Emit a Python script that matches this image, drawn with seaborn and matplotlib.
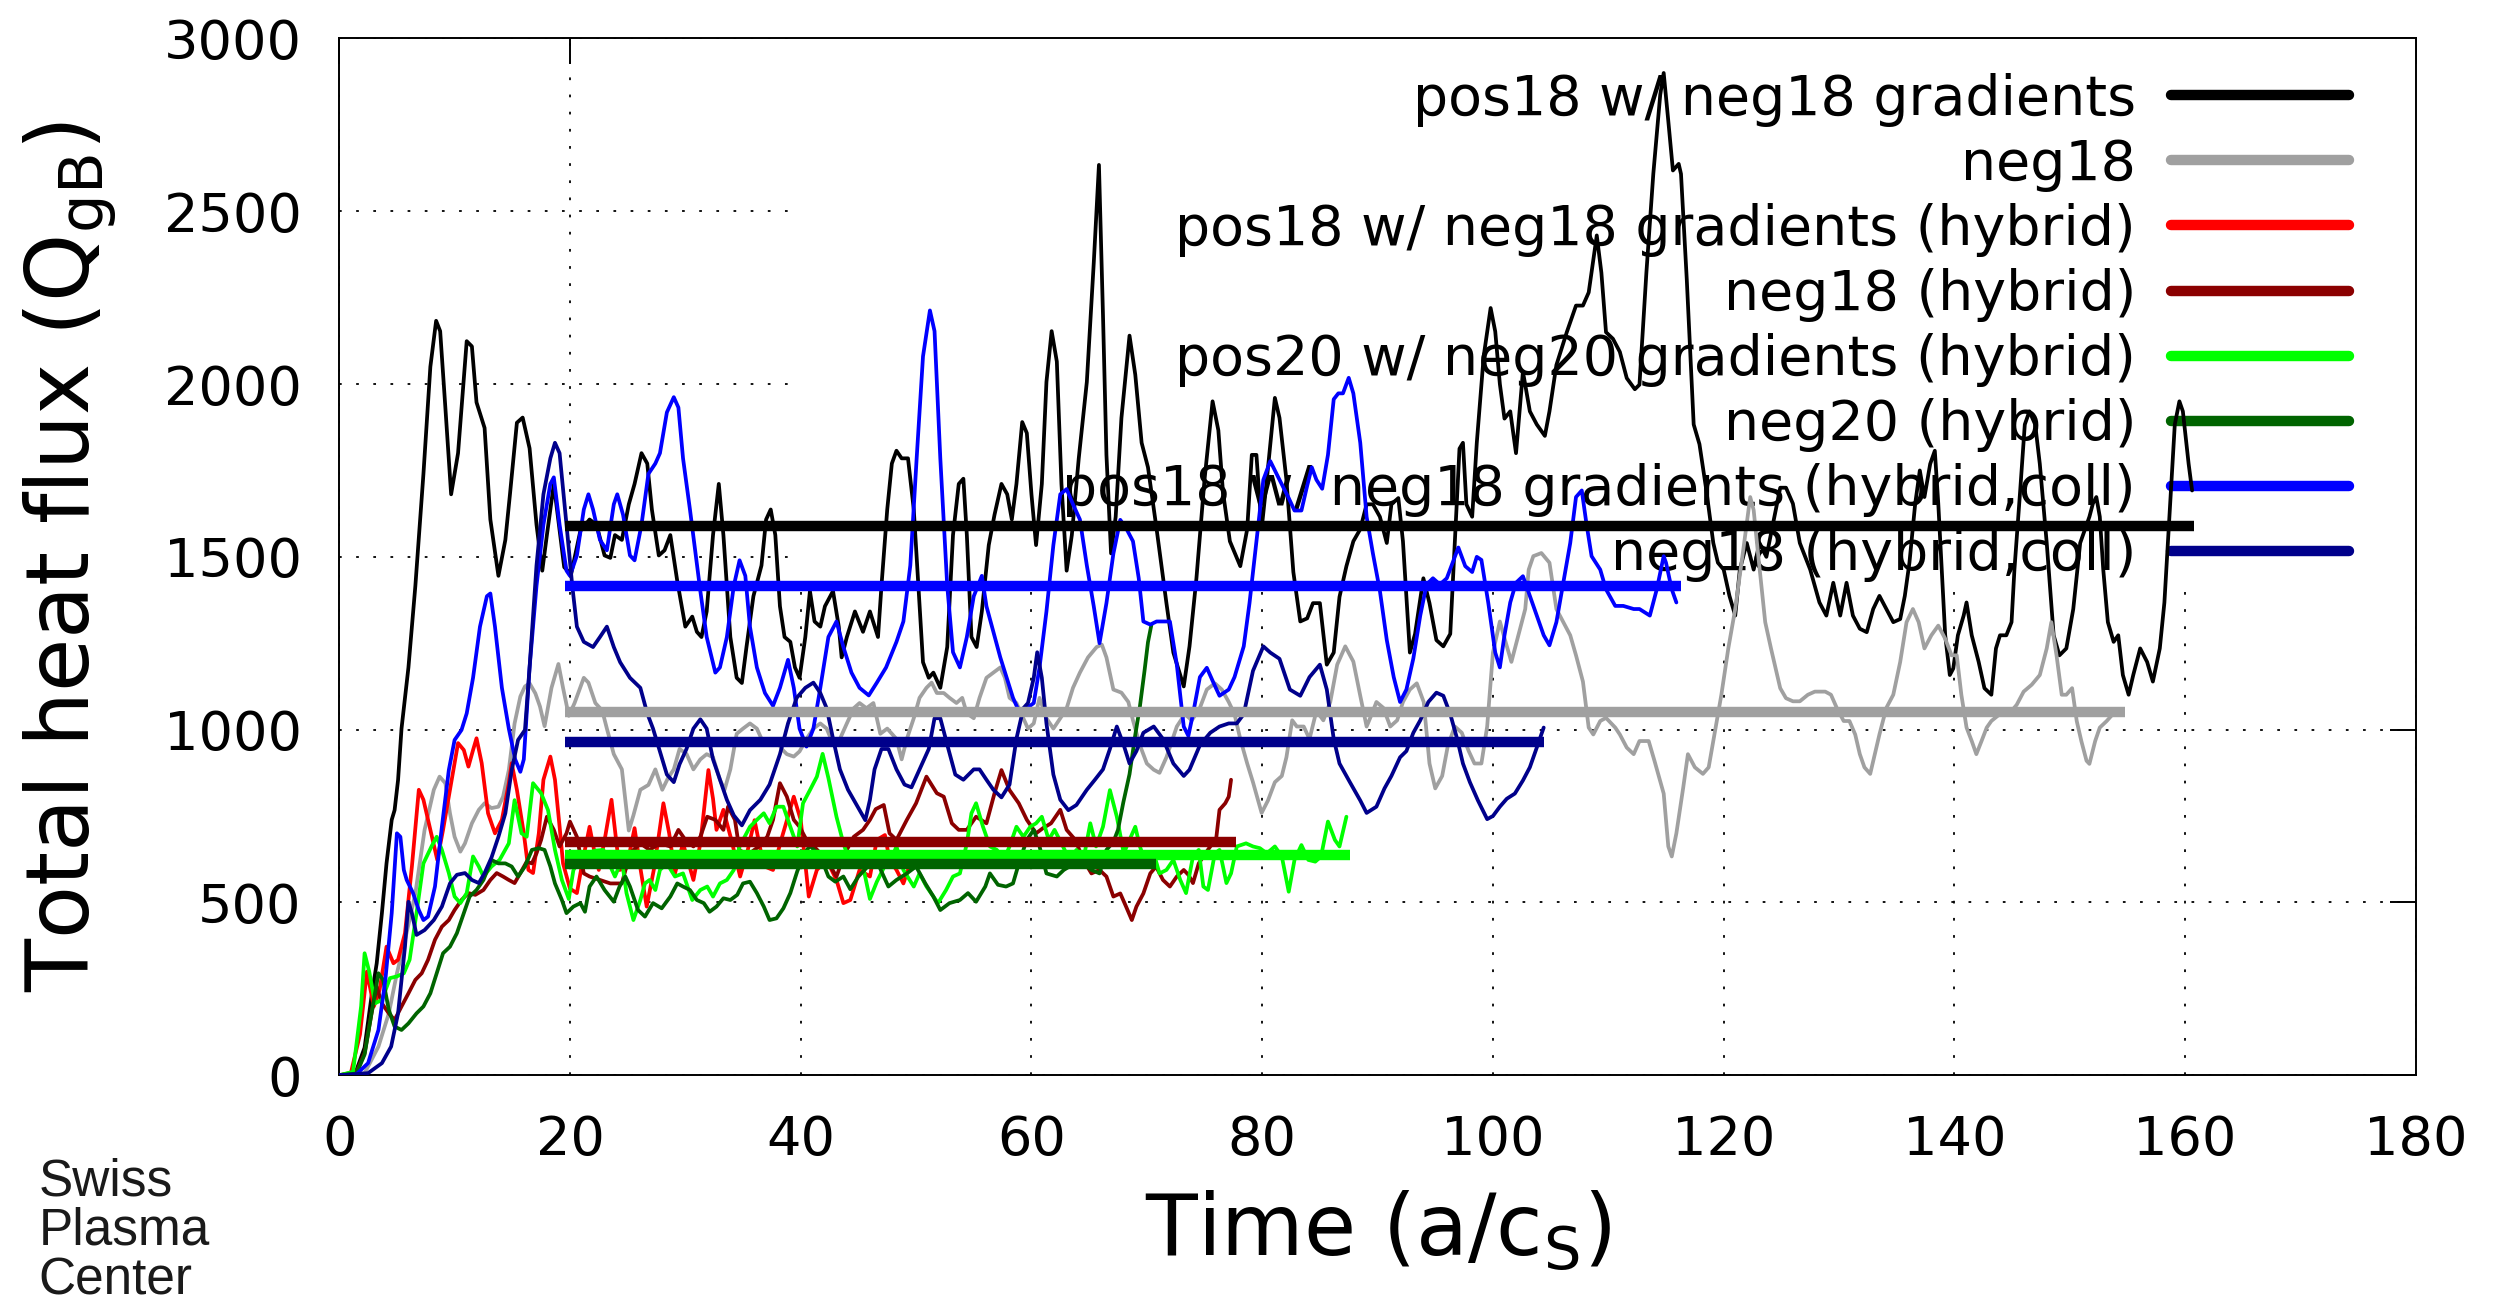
import matplotlib
matplotlib.use("Agg")
import matplotlib.pyplot as plt
from matplotlib.lines import Line2D
from matplotlib.patches import Rectangle
import pandas as pd
import seaborn as sns

# (time, heat flux) pairs
pos18 = [(0, 0), (1.4, 6), (2.2, 80), (2.8, 228), (3.25, 324), (3.7, 469), (4.1, 613), (4.55, 739), (4.8, 767),
         (5.1, 854), (5.4, 1003), (6.0, 1180), (6.6, 1416), (7.3, 1740), (7.9, 2050), (8.4, 2183), (8.75, 2153),
         (9.2, 1932), (9.7, 1681), (10.3, 1800), (11.05, 2124), (11.5, 2109), (11.9, 1947), (12.6, 1873),
         (13.1, 1608), (13.8, 1445), (14.4, 1549), (14.8, 1681), (15.4, 1888), (15.9, 1903), (16.5, 1814),
         (17.1, 1593), (17.6, 1460), (18.0, 1563), (18.6, 1711), (19.5, 1470), (20.1, 1450), (20.9, 1575),
         (21.7, 1608), (22.3, 1593), (23.0, 1504), (23.5, 1497), (23.9, 1563), (24.5, 1549), (25.1, 1652),
         (25.6, 1711), (26.2, 1800), (26.7, 1770), (27.1, 1637), (27.7, 1504), (28.2, 1519), (28.7, 1563),
         (29.3, 1430), (30.0, 1298), (30.6, 1327), (31.0, 1283), (31.4, 1268), (31.85, 1342), (32.4, 1563),
         (32.9, 1711), (33.3, 1563), (33.9, 1268), (34.45, 1150), (34.9, 1135), (35.3, 1239), (35.9, 1386),
         (36.6, 1475), (37.0, 1608), (37.4, 1637), (37.8, 1563), (38.2, 1357), (38.6, 1268), (39.1, 1254),
         (39.5, 1180), (39.9, 1150), (40.4, 1268), (40.8, 1401), (41.2, 1313), (41.7, 1298), (42.1, 1357),
         (42.8, 1401), (43.3, 1298), (43.55, 1209), (44.0, 1268), (44.7, 1342), (45.4, 1283), (46.0, 1342),
         (46.7, 1268), (47.0, 1416), (47.5, 1637), (47.9, 1770), (48.3, 1807), (48.75, 1785), (49.3, 1785),
         (49.8, 1637), (50.2, 1416), (50.6, 1195), (51.1, 1150), (51.5, 1165), (52.1, 1121), (52.7, 1239),
         (53.2, 1563), (53.7, 1711), (54.1, 1726), (54.4, 1563), (54.8, 1268), (55.25, 1239), (55.7, 1342),
         (56.3, 1534), (56.8, 1622), (57.4, 1711), (57.9, 1681), (58.3, 1608), (58.7, 1711), (59.2, 1890),
         (59.6, 1858), (60.0, 1681), (60.4, 1534), (60.9, 1711), (61.3, 2006), (61.75, 2153), (62.2, 2065),
         (62.6, 1711), (63.05, 1460), (63.5, 1563), (64.1, 1785), (64.8, 2006), (65.4, 2350), (65.85, 2634),
         (66.2, 2200), (66.5, 1795), (66.9, 1510), (67.3, 1616), (67.8, 1902), (68.5, 2140), (69.0, 2027),
         (69.55, 1830), (70.1, 1759), (70.85, 1580), (71.7, 1366), (72.3, 1223), (73.2, 1125), (73.7, 1241),
         (74.3, 1438), (75.0, 1723), (75.7, 1950), (76.2, 1866), (76.6, 1688), (77.2, 1545), (78.1, 1473),
         (78.7, 1580), (79.1, 1795), (79.5, 1795), (79.95, 1580), (80.4, 1723), (81.1, 1960), (81.5, 1902),
         (82.1, 1723), (82.7, 1456), (83.3, 1313), (83.9, 1322), (84.4, 1366), (85.0, 1366), (85.6, 1188),
         (86.2, 1223), (86.7, 1384), (87.3, 1473), (87.9, 1545), (88.5, 1580), (89.05, 1652), (89.6, 1652),
         (90.2, 1616), (90.8, 1540), (91.2, 1652), (91.8, 1670), (92.2, 1545), (92.8, 1223), (93.25, 1277),
         (93.97, 1438), (94.5, 1366), (95.1, 1259), (95.7, 1241), (96.3, 1277), (96.7, 1545), (97.1, 1813),
         (97.4, 1830), (97.7, 1652), (98.2, 1616), (98.6, 1830), (99.2, 2081), (99.8, 2220), (100.2, 2152),
         (100.6, 2000), (101.0, 1900), (101.5, 1921), (102.0, 1800), (102.6, 2036), (103.2, 1921), (103.8, 1883),
         (104.5, 1850), (104.9, 1921), (105.5, 2055), (106.4, 2150), (107.2, 2227), (107.8, 2227), (108.3, 2265),
         (109.0, 2430), (109.4, 2322), (109.8, 2150), (110.4, 2131), (111.0, 2093), (111.6, 2017), (112.3, 1985),
         (112.7, 1998), (113.3, 2322), (113.9, 2608), (114.5, 2837), (114.8, 2900), (115.2, 2761), (115.6, 2618),
         (116.1, 2637), (116.3, 2608), (116.8, 2303), (117.4, 1883), (117.9, 1826), (118.5, 1692), (119.1, 1540),
         (119.5, 1483), (120.0, 1463), (120.5, 1387), (121.0, 1330), (121.4, 1463), (122.0, 1540), (122.6, 1463),
         (123.1, 1540), (123.7, 1500), (124.3, 1600), (124.9, 1700), (125.4, 1700), (126.0, 1654), (126.6, 1540),
         (127.5, 1463), (128.3, 1368), (128.9, 1330), (129.5, 1425), (130.1, 1330), (130.65, 1425), (131.2, 1330),
         (131.8, 1292), (132.4, 1282), (132.96, 1349), (133.5, 1387), (134.1, 1349), (134.7, 1311), (135.3, 1320),
         (135.7, 1387), (136.1, 1483), (136.6, 1654), (137.0, 1750), (137.4, 1673), (137.9, 1769), (138.3, 1807),
         (138.6, 1654), (138.9, 1463), (139.2, 1273), (139.6, 1158), (139.9, 1177), (140.3, 1273), (140.8, 1330),
         (141.05, 1368), (141.5, 1273), (142.1, 1196), (142.6, 1120), (143.2, 1101), (143.6, 1235), (143.95, 1273),
         (144.5, 1273), (144.95, 1311), (145.2, 1463), (145.7, 1692), (146.1, 1883), (146.5, 1921), (147.0, 1883),
         (147.4, 1769), (148.0, 1540), (148.6, 1273), (149.1, 1215), (149.7, 1235), (150.3, 1349), (150.9, 1540),
         (151.3, 1578), (151.7, 1616), (152.0, 1654), (152.3, 1673), (152.6, 1616), (152.9, 1463), (153.3, 1311),
         (153.8, 1254), (154.2, 1273), (154.6, 1158), (155.1, 1101), (155.5, 1158), (156.1, 1235), (156.7, 1196),
         (157.2, 1139), (157.8, 1235), (158.2, 1368), (158.7, 1654), (159.1, 1883), (159.5, 1950), (159.8, 1921),
         (160.3, 1769), (160.6, 1692)]

neg18 = [(0, 0), (2.2, 6), (3.4, 83), (4.3, 179), (5.0, 295), (5.7, 391), (6.6, 526), (7.4, 710), (8.2, 826),
         (8.7, 864), (9.2, 845), (9.6, 758), (10.0, 690), (10.5, 647), (10.9, 671), (11.5, 729), (12.1, 768),
         (12.6, 787), (13.2, 773), (13.8, 777), (14.2, 806), (14.7, 883), (15.2, 1018), (15.7, 1096), (16.1, 1125),
         (16.5, 1134), (17.0, 1105), (17.4, 1067), (17.8, 1010), (18.4, 1121), (19.0, 1190), (19.4, 1121),
         (19.9, 1040), (20.4, 1077), (21.2, 1150), (21.6, 1136), (22.2, 1077), (22.8, 1055), (23.2, 1003),
         (23.8, 929), (24.5, 885), (25.1, 708), (25.5, 752), (26.1, 826), (26.8, 840), (27.4, 885), (28.0, 826),
         (28.5, 860), (29.0, 885), (29.5, 944), (30.1, 930), (30.7, 885), (31.3, 914), (31.85, 929), (32.4, 920),
         (33.0, 855), (33.4, 826), (33.9, 885), (34.45, 988), (35.0, 1003), (35.6, 1018), (36.2, 1003),
         (36.8, 959), (37.3, 966), (37.9, 973), (38.35, 944), (38.8, 929), (39.4, 922), (39.9, 937), (40.5, 973),
         (41.1, 1003), (41.7, 1018), (42.25, 1003), (42.8, 959), (43.4, 973), (44.0, 1018), (44.6, 1062),
         (45.1, 1077), (45.7, 1062), (46.3, 1077), (46.9, 988), (47.5, 1003), (48.3, 973), (48.75, 914),
         (49.2, 973), (49.8, 1033), (50.3, 1092), (50.9, 1121), (51.35, 1136), (51.8, 1106), (52.4, 1106),
         (52.9, 1092), (53.5, 1077), (54.0, 1092), (54.4, 1047), (55.0, 1033), (55.5, 1092), (56.1, 1150),
         (56.7, 1165), (57.3, 1180), (57.7, 1150), (58.1, 1092), (58.7, 1077), (59.3, 1033), (59.7, 1003),
         (60.2, 1018), (60.7, 1092), (61.3, 1033), (61.9, 1003), (62.5, 1033), (63.05, 1062), (63.6, 1121),
         (64.2, 1165), (64.9, 1209), (65.65, 1239), (66.1, 1246), (66.5, 1209), (67.1, 1116), (67.8, 1107),
         (68.4, 1080), (68.8, 1027), (69.4, 955), (70.0, 902), (70.6, 884), (71.1, 875), (71.7, 920), (72.6, 1009),
         (73.3, 1045), (73.9, 1027), (74.6, 1063), (75.2, 1116), (75.9, 1134), (76.5, 1116), (77.1, 1080),
         (77.6, 1045), (78.1, 973), (78.7, 902), (79.2, 848), (79.95, 759), (80.5, 795), (81.1, 848), (81.7, 866),
         (82.1, 920), (82.6, 1027), (83.0, 1009), (83.6, 1009), (84.1, 973), (84.7, 1054), (85.3, 1027),
         (85.9, 1080), (86.5, 1188), (87.2, 1241), (87.9, 1197), (88.5, 1098), (89.05, 1009), (89.5, 1045),
         (89.9, 1080), (90.5, 1063), (91.1, 1009), (91.7, 1027), (92.2, 1080), (92.8, 1116), (93.4, 1134),
         (94.0, 1080), (94.5, 902), (95.0, 830), (95.6, 866), (96.1, 955), (96.7, 1009), (97.3, 991), (97.9, 938),
         (98.4, 902), (99.0, 902), (99.5, 1009), (100.0, 1223), (100.6, 1313), (101.05, 1259), (101.6, 1196),
         (102.2, 1273), (102.8, 1349), (103.1, 1463), (103.5, 1502), (104.2, 1511), (104.9, 1483), (105.5, 1349),
         (106.1, 1311), (106.7, 1273), (107.2, 1215), (107.8, 1139), (108.3, 1006), (108.7, 986), (109.3, 1025),
         (109.8, 1034), (110.6, 1006), (111.0, 986), (111.6, 948), (112.2, 929), (112.7, 967), (113.5, 967),
         (114.0, 910), (114.8, 815), (115.2, 662), (115.5, 633), (115.9, 700), (116.5, 834), (116.9, 929),
         (117.5, 891), (118.2, 872), (118.7, 891), (119.2, 986), (119.8, 1101), (120.4, 1235), (121.0, 1349),
         (121.7, 1521), (122.3, 1673), (122.6, 1635), (123.0, 1502), (123.6, 1311), (124.1, 1235), (124.9, 1120),
         (125.4, 1091), (126.0, 1082), (126.6, 1082), (127.3, 1101), (127.9, 1110), (128.8, 1110), (129.3, 1101),
         (129.8, 1063), (130.4, 1025), (130.9, 1025), (131.4, 986), (131.8, 929), (132.2, 891), (132.7, 872),
         (133.1, 929), (133.5, 986), (134.1, 1063), (134.7, 1101), (135.3, 1196), (135.85, 1311), (136.4, 1349),
         (136.9, 1311), (137.4, 1235), (138.0, 1273), (138.6, 1301), (139.2, 1263), (139.75, 1215), (140.2, 1215),
         (140.6, 1101), (141.05, 1006), (141.5, 967), (141.9, 929), (142.35, 967), (142.8, 1006), (143.2, 1025),
         (143.9, 1044), (144.7, 1044), (145.4, 1072), (146.0, 1110), (146.7, 1130), (147.4, 1158), (148.0, 1235),
         (148.4, 1311), (148.85, 1215), (149.3, 1101), (149.7, 1101), (150.2, 1120), (150.6, 1025), (151.0, 967),
         (151.45, 910), (151.7, 901), (152.2, 967), (152.6, 1006), (153.2, 1025), (153.6, 1040)]

pos18_hyb = [(0, 0), (1.0, 5), (1.8, 118), (2.4, 300), (3.0, 199), (3.5, 247), (4.1, 372), (4.7, 324), (5.1, 334),
             (5.7, 411), (6.3, 604), (6.9, 826), (7.3, 797), (7.9, 710), (8.5, 623), (9.0, 710), (9.6, 826),
             (10.3, 961), (10.8, 941), (11.2, 893), (11.6, 941), (11.9, 975), (12.35, 903), (12.9, 758),
             (13.5, 700), (14.1, 739), (14.7, 845), (14.95, 903), (15.4, 826), (16.0, 700), (16.4, 594),
             (16.8, 585), (17.3, 700), (17.7, 855), (18.3, 922), (18.7, 855), (19.1, 720), (19.4, 613), (20.0, 540),
             (20.6, 527), (21.1, 620), (21.7, 719), (22.1, 650), (22.5, 594), (23.0, 680), (23.6, 797), (24.3, 594),
             (24.9, 600), (25.6, 715), (26.1, 600), (26.65, 488), (27.3, 600), (28.1, 787), (28.6, 700),
             (29.1, 584), (29.8, 671), (30.7, 565), (31.3, 671), (32.0, 883), (32.4, 800), (32.7, 710), (33.3, 768),
             (34.0, 680), (34.75, 575), (35.4, 650), (36.0, 738), (36.8, 605), (37.6, 594), (38.3, 680),
             (39.4, 806), (40.0, 739), (40.7, 517), (41.4, 594), (42.25, 623), (43.1, 565), (43.7, 498), (44.3, 507),
             (45.1, 594), (46.0, 575), (46.6, 681), (47.3, 695), (47.7, 623), (48.3, 594), (48.9, 555), (49.3, 594)]

neg18_hyb = [(0, 0), (1.5, 10), (2.2, 64), (2.8, 179), (3.25, 256), (3.7, 208), (4.3, 179), (4.8, 160), (5.4, 199),
             (6.0, 237), (6.6, 276), (7.15, 295), (7.7, 334), (8.3, 392), (8.9, 430), (9.5, 449), (10.0, 478),
             (10.6, 507), (11.2, 527), (11.8, 522), (12.5, 536), (13.1, 565), (13.65, 585), (14.2, 575),
             (14.7, 565), (15.2, 556), (15.7, 585), (16.25, 618), (16.7, 613), (17.1, 642), (17.5, 681), (18.0, 748),
             (18.6, 710), (19.1, 662), (19.7, 700), (20.0, 734), (20.6, 690), (21.2, 584), (21.7, 575), (22.6, 565),
             (23.5, 555), (24.5, 555), (25.2, 642), (26.1, 671), (26.9, 652), (27.8, 671), (28.7, 662), (29.4, 710),
             (30.0, 681), (30.7, 662), (31.3, 690), (31.9, 748), (32.6, 739), (33.3, 710), (33.7, 777), (34.3, 739),
             (34.7, 650), (35.5, 640), (36.3, 660), (37.1, 690), (37.6, 739), (38.2, 845), (38.8, 806), (39.4, 739),
             (39.9, 719), (40.5, 681), (41.2, 660), (42.25, 623), (43.1, 575), (43.8, 640), (44.6, 690),
             (45.4, 710), (46.0, 739), (46.5, 770), (47.2, 782), (47.7, 700), (48.3, 681), (49.2, 739), (50.0, 787),
             (50.9, 864), (51.8, 816), (52.4, 806), (53.1, 729), (53.7, 710), (54.4, 710), (55.2, 748), (56.1, 729),
             (56.8, 816), (57.4, 883), (58.1, 825), (58.9, 787), (59.6, 739), (60.4, 700), (61.0, 715), (61.7, 729),
             (62.5, 768), (63.05, 710), (63.8, 681), (64.5, 623), (65.2, 584), (65.9, 594), (66.5, 575), (67.1, 517),
             (67.7, 526), (68.2, 488), (68.7, 449), (69.1, 488), (69.7, 526), (70.3, 584), (70.8, 604), (71.4, 565),
             (72.0, 546), (72.6, 575), (73.2, 594), (73.6, 580), (74.0, 556), (74.5, 613), (74.9, 633), (75.5, 662),
             (76.0, 681), (76.3, 768), (76.8, 787), (77.1, 806), (77.3, 855)]

pos20_hyb = [(0, 0), (1.2, 10), (1.9, 200), (2.2, 353), (2.6, 300), (3.1, 208), (3.7, 218), (4.4, 281), (5.0, 286),
             (5.6, 295), (6.1, 334), (6.7, 469), (7.3, 613), (8.0, 662), (8.45, 690), (8.9, 652), (9.5, 585),
             (10.0, 517), (10.5, 498), (11.05, 527), (11.6, 633), (12.1, 604), (12.5, 575), (13.2, 604), (13.9, 623),
             (14.7, 671), (15.2, 796), (15.8, 700), (16.25, 690), (16.8, 845), (17.5, 816), (18.1, 767), (18.7, 652),
             (19.3, 565), (19.9, 510), (20.3, 594), (20.9, 623), (21.45, 642), (22.2, 650), (22.9, 652), (23.5, 604),
             (23.9, 575), (24.5, 623), (24.9, 527), (25.5, 449), (26.1, 507), (26.5, 555), (26.9, 565), (27.4, 536),
             (27.8, 594), (28.4, 613), (29.1, 575), (29.8, 584), (30.6, 507), (31.3, 536), (31.9, 546), (32.4, 517),
             (33.0, 555), (33.6, 565), (34.2, 594), (34.7, 662), (35.6, 719), (36.2, 739), (36.8, 758), (37.3, 729),
             (37.9, 777), (38.5, 777), (39.1, 719), (39.7, 662), (40.2, 787), (40.8, 825), (41.4, 864), (41.9, 930),
             (42.4, 860), (43.1, 748), (43.7, 671), (44.3, 613), (44.9, 623), (45.4, 604), (46.0, 510), (46.6, 560),
             (47.2, 600), (47.7, 613), (48.3, 662), (48.9, 594), (49.8, 546), (50.3, 584), (50.9, 546), (51.9, 498),
             (52.6, 536), (53.2, 575), (53.8, 584), (54.4, 671), (54.8, 758), (55.2, 787), (55.8, 719), (56.4, 662),
             (57.0, 652), (57.6, 623), (58.1, 662), (58.7, 719), (59.3, 690), (59.9, 719), (60.4, 729), (60.9, 748),
             (61.5, 681), (62.0, 710), (62.6, 671), (63.3, 623), (63.9, 652), (64.5, 623), (65.1, 729), (65.6, 662),
             (66.2, 719), (66.8, 825), (67.4, 748), (68.0, 642), (68.5, 681), (69.0, 719), (69.4, 662), (70.0, 604),
             (70.6, 642), (71.1, 584), (71.7, 594), (72.3, 623), (72.9, 565), (73.4, 527), (74.0, 633), (74.5, 652),
             (74.9, 546), (75.3, 536), (75.9, 642), (76.3, 652), (76.9, 556), (77.3, 584), (77.8, 662), (78.6, 671),
             (79.2, 662), (79.8, 657), (80.4, 642), (81.1, 662), (81.7, 633), (82.3, 531), (82.8, 623), (83.4, 666),
             (84.0, 623), (84.6, 618), (85.1, 633), (85.7, 734), (86.3, 681), (86.7, 662), (87.3, 748)]

neg20_hyb = [(0, 0), (1.5, 5), (2.2, 60), (2.8, 179), (3.4, 295), (3.8, 276), (4.3, 189), (4.8, 141), (5.4, 131),
             (6.0, 150), (6.7, 179), (7.3, 199), (7.9, 237), (8.45, 295), (9.0, 353), (9.6, 372), (10.2, 411),
             (10.8, 469), (11.3, 517), (11.9, 536), (12.5, 565), (13.2, 623), (13.8, 613), (14.4, 613), (14.95, 604),
             (15.5, 575), (16.1, 604), (16.7, 652), (17.3, 657), (17.8, 652), (18.3, 604), (18.7, 555), (19.3, 507),
             (19.7, 469), (20.3, 488), (20.9, 498), (21.3, 473), (21.7, 546), (22.3, 575), (23.0, 536), (23.8, 502),
             (24.3, 546), (24.8, 575), (25.2, 546), (25.9, 478), (26.5, 459), (27.2, 498), (27.95, 483), (28.7, 517),
             (29.3, 555), (29.8, 546), (30.4, 536), (31.0, 507), (31.6, 498), (32.1, 473), (32.7, 488), (33.3, 512),
             (33.9, 507), (34.5, 522), (35.0, 555), (35.6, 560), (36.2, 527), (36.8, 488), (37.3, 449), (37.9, 454),
             (38.5, 483), (39.1, 527), (39.7, 590), (40.3, 640), (40.8, 664), (41.7, 634), (42.4, 575), (43.0, 560),
             (43.7, 575), (44.3, 538), (45.0, 575), (45.7, 600), (46.4, 634), (47.2, 575), (47.6, 546), (48.3, 565),
             (49.2, 584), (50.0, 604), (50.8, 555), (51.5, 517), (52.1, 478), (52.9, 498), (53.8, 507), (54.5, 527),
             (55.2, 502), (56.0, 546), (56.4, 584), (57.1, 551), (57.8, 546), (58.4, 555), (59.0, 623), (59.6, 681),
             (60.2, 710), (60.7, 662), (61.3, 584), (62.2, 575), (62.8, 594), (63.6, 610), (64.5, 613), (65.2, 594),
             (65.9, 584), (66.5, 652), (67.1, 675), (67.5, 710), (67.96, 789), (68.5, 871), (69.0, 985), (69.4, 1067),
             (69.8, 1170), (70.1, 1253), (70.4, 1304)]

pos18_coll = [(0, 0), (1.4, 0), (2.5, 35), (3.4, 131), (4.0, 276), (4.55, 469), (5.0, 700), (5.3, 690), (5.6, 594),
              (5.85, 565), (6.4, 527), (6.9, 478), (7.3, 449), (7.7, 459), (8.3, 546), (8.9, 719), (9.5, 883),
              (10.0, 970), (10.6, 999), (11.05, 1047), (11.6, 1150), (12.2, 1298), (12.8, 1386), (13.1, 1394),
              (13.5, 1298), (14.1, 1121), (14.7, 1003), (15.25, 914), (15.7, 878), (16.0, 914), (16.5, 1180),
              (17.1, 1416), (17.7, 1593), (18.3, 1711), (18.6, 1730), (19.1, 1593), (19.7, 1460), (20.0, 1445),
              (20.6, 1504), (21.2, 1637), (21.6, 1681), (22.0, 1637), (22.6, 1549), (23.2, 1519), (23.8, 1652),
              (24.1, 1681), (24.6, 1622), (25.2, 1504), (25.6, 1490), (26.2, 1593), (26.8, 1740), (27.4, 1770),
              (27.8, 1800), (28.4, 1918), (29.0, 1962), (29.4, 1932), (29.8, 1785), (30.4, 1637), (31.0, 1480),
              (31.3, 1401), (31.85, 1268), (32.6, 1165), (33.0, 1180), (33.6, 1268), (34.2, 1416), (34.7, 1490),
              (35.2, 1445), (35.6, 1298), (36.2, 1180), (36.9, 1106), (37.6, 1069), (38.2, 1121), (38.9, 1202),
              (39.4, 1121), (39.9, 1003), (40.5, 951), (41.1, 1003), (41.7, 1121), (42.4, 1268), (43.1, 1313),
              (43.7, 1239), (44.4, 1165), (45.1, 1121), (45.9, 1099), (46.6, 1136), (47.4, 1180), (48.3, 1254),
              (48.9, 1313), (49.5, 1475), (50.05, 1785), (50.6, 2080), (51.2, 2213), (51.6, 2153), (52.1, 1785),
              (52.7, 1416), (53.2, 1224), (53.8, 1180), (54.4, 1268), (55.0, 1386), (55.7, 1445), (56.1, 1357),
              (56.7, 1283), (57.3, 1209), (57.85, 1150), (58.4, 1092), (59.0, 1047), (59.6, 1062), (60.2, 1077),
              (60.7, 1180), (61.3, 1342), (61.9, 1534), (62.5, 1681), (63.05, 1696), (63.6, 1652), (64.2, 1608),
              (64.8, 1475), (65.4, 1357), (65.9, 1250), (66.5, 1366), (67.1, 1509), (67.7, 1607), (68.25, 1580),
              (68.8, 1545), (69.3, 1438), (69.7, 1313), (70.3, 1304), (70.85, 1313), (71.6, 1313), (72.0, 1313),
              (72.6, 1188), (73.2, 1009), (73.6, 982), (74.0, 1045), (74.6, 1152), (75.2, 1179), (75.8, 1134),
              (76.3, 1098), (77.1, 1116), (77.6, 1152), (78.4, 1241), (78.9, 1366), (79.5, 1545), (80.1, 1723),
              (80.7, 1777), (81.5, 1723), (82.3, 1670), (82.8, 1634), (83.4, 1634), (83.9, 1706), (84.3, 1759),
              (84.7, 1723), (85.2, 1697), (85.7, 1795), (86.2, 1956), (86.6, 1973), (87.0, 1973), (87.5, 2018),
              (87.9, 1973), (88.5, 1830), (89.05, 1616), (89.6, 1509), (90.2, 1402), (90.8, 1259), (91.4, 1152),
              (91.95, 1080), (92.5, 1116), (93.1, 1206), (93.7, 1330), (94.25, 1420), (94.8, 1438), (95.4, 1420),
              (96.0, 1438), (96.6, 1491), (97.0, 1527), (97.6, 1473), (98.2, 1456), (98.6, 1500), (99.0, 1491),
              (99.6, 1366), (100.2, 1223), (100.6, 1180), (101.0, 1273), (101.5, 1368), (102.0, 1425), (102.6, 1444),
              (103.2, 1387), (103.8, 1330), (104.4, 1273), (104.9, 1244), (105.5, 1311), (106.1, 1425), (106.7, 1540),
              (107.2, 1673), (107.7, 1692), (108.1, 1597), (108.55, 1502), (109.3, 1463), (109.8, 1406), (110.6, 1358),
              (111.3, 1358), (112.2, 1349), (112.7, 1349), (113.6, 1330), (114.2, 1406), (114.8, 1502), (115.0, 1483),
              (115.5, 1406), (115.9, 1368)]

neg18_coll = [(0, 0), (2.5, 6), (3.7, 35), (4.5, 83), (5.1, 179), (5.7, 372), (6.0, 502), (6.3, 469), (6.7, 406),
              (7.4, 420), (8.2, 449), (8.9, 488), (9.6, 555), (10.2, 580), (10.9, 585), (11.5, 565), (12.1, 556),
              (12.6, 585), (13.2, 630), (13.8, 690), (14.4, 758), (14.95, 883), (15.5, 970), (16.1, 999),
              (16.5, 1180), (17.1, 1475), (17.7, 1681), (18.3, 1785), (18.7, 1830), (19.1, 1800), (19.7, 1593),
              (20.2, 1416), (20.6, 1298), (21.2, 1254), (22.0, 1239), (22.6, 1268), (23.2, 1298), (23.8, 1239),
              (24.35, 1195), (25.2, 1150), (26.1, 1121), (26.7, 1047), (27.2, 1003), (28.0, 914), (28.4, 870),
              (29.0, 848), (29.5, 900), (30.1, 944), (30.7, 1003), (31.3, 1030), (31.85, 1003), (32.4, 914),
              (33.0, 855), (33.6, 797), (34.2, 752), (34.9, 723), (35.6, 767), (36.5, 797), (37.3, 841), (38.2, 929),
              (38.9, 1018), (39.65, 1092), (40.4, 1121), (41.1, 1136), (41.7, 1106), (42.25, 1062), (42.8, 974),
              (43.4, 885), (44.1, 826), (44.85, 782), (45.6, 738), (46.0, 797), (46.4, 885), (47.0, 944), (47.6, 944),
              (48.3, 885), (49.0, 841), (49.6, 833), (50.3, 885), (51.1, 944), (51.6, 1033), (52.1, 1033), (52.8, 944),
              (53.4, 870), (54.1, 855), (55.0, 885), (55.5, 885), (56.1, 855), (56.7, 826), (57.4, 804), (58.1, 841),
              (58.7, 974), (59.3, 1062), (59.7, 1077), (60.2, 1150), (60.5, 1224), (60.9, 1150), (61.3, 1018),
              (61.9, 870), (62.5, 797), (63.2, 767), (63.9, 782), (64.8, 826), (65.5, 855), (66.2, 885), (66.8, 944),
              (67.4, 1009), (68.0, 955), (68.5, 902), (69.1, 938), (69.7, 991), (70.6, 1009), (71.4, 973), (72.3, 902),
              (73.2, 866), (73.7, 884), (74.6, 955), (75.5, 991), (76.3, 1009), (77.1, 1018), (77.8, 1018),
              (78.4, 1045), (79.2, 1170), (80.1, 1241), (80.7, 1223), (81.5, 1205), (82.4, 1116), (83.3, 1098),
              (84.1, 1152), (85.0, 1188), (85.6, 1116), (86.2, 973), (86.7, 902), (87.6, 848), (88.5, 795),
              (89.05, 759), (89.9, 777), (90.6, 830), (91.2, 866), (91.95, 920), (92.5, 938), (93.1, 991), (93.7, 1027),
              (94.4, 1080), (95.1, 1107), (95.7, 1098), (96.3, 1045), (96.9, 973), (97.4, 902), (98.0, 848),
              (98.7, 795), (99.5, 741), (100.0, 750), (100.6, 777), (101.2, 800), (101.9, 815), (102.6, 853),
              (103.2, 891), (103.8, 948), (104.4, 1006)]

labels = ["pos18 w/ neg18 gradients", "neg18", "pos18 w/ neg18 gradients (hybrid)", "neg18 (hybrid)",
          "pos20 w/ neg20 gradients (hybrid)", "neg20 (hybrid)", "pos18 w/ neg18 gradients (hybrid,coll)",
          "neg18 (hybrid,coll)"]
colors = ["#000000", "#a0a0a0", "#ff0000", "#8b0000", "#00ff00", "#006400", "#0000ff", "#00008b"]

# time-averaged flux from t = 19.6 to the end of each run
mean_flux = [1590, 1050, 625, 676, 637, 611, 1415, 965]
mean_start = 19.6
mean_end = [160.8, 154.8, 49.3, 77.7, 87.6, 70.8, 116.3, 104.4]

series = [pos18, neg18, pos18_hyb, neg18_hyb, pos20_hyb, neg20_hyb, pos18_coll, neg18_coll]

sns.set_style("white")
plt.rcParams["font.family"] = ["DejaVu Sans"]
plt.rcParams["mathtext.fontset"] = "dejavusans"
plt.rcParams["text.color"] = "black"
plt.rcParams["axes.labelcolor"] = "black"
plt.rcParams["xtick.color"] = "black"
plt.rcParams["ytick.color"] = "black"

fig = plt.figure(figsize=(25.09, 13.03), dpi=100)
ax = fig.add_axes([0.1352, 0.1748, 0.8277, 0.7957])

for data, col in zip(series, colors):
    df = pd.DataFrame(data, columns=["t", "q"])
    sns.lineplot(data=df, x="t", y="q", color=col, lw=2.7, sort=False, estimator=None,
                 ax=ax, zorder=3, legend=False)

for m, e, col in zip(mean_flux, mean_end, colors):
    ax.hlines(m, mean_start, e, colors=col, lw=7.5, zorder=4)

ax.set_xlim(0, 180)
ax.set_ylim(0, 3000)
ax.set_xticks(range(0, 181, 20))
ax.set_yticks(range(0, 3001, 500))
ax.tick_params(direction="in", length=19, width=1.4, top=True, right=True, labelsize=39,
               colors="black")
ax.tick_params(axis="x", pad=28)
ax.tick_params(axis="y", pad=27)
for sp in ax.spines.values():
    sp.set_linewidth(1.4)
    sp.set_color("black")

ax.set_axisbelow(True)
ax.grid(True, color="black", lw=1.3, linestyle=(0, (1.5, 8)))

# key background hides the grid behind it
ax.add_patch(Rectangle((0.2178, 0.4733), 0.7822, 0.5267, transform=ax.transAxes,
                       facecolor="white", edgecolor="none", zorder=1))

ax.set_xlabel(r"Time (a/c$_\mathrm{S}$)", fontsize=61, color="black")
ax.set_ylabel(r"Total heat flux (Q$_\mathrm{gB}$)", fontsize=62.5, color="black")
ax.xaxis.set_label_coords(0.5, -0.11)
ax.yaxis.set_label_coords(-0.106, 0.5)

handles = [Line2D([], [], color=c, lw=7.5) for c in colors]
leg = ax.legend(handles, labels, loc="upper right", bbox_to_anchor=(0.9677, 0.967), frameon=False,
                markerfirst=False, fontsize=40, handlelength=3.2, handletextpad=0.63,
                labelspacing=0.2, borderpad=0, borderaxespad=0, labelcolor="black")
leg.set_zorder(2)

for word, y in zip(["Swiss", "Plasma", "Center"], [0.0826, 0.0446, 0.0062]):
    fig.text(0.0153, y, word, fontsize=37, family="Liberation Sans", color="#1a1a1a",
             ha="left", va="baseline")

fig.savefig("out.png", dpi=100)
